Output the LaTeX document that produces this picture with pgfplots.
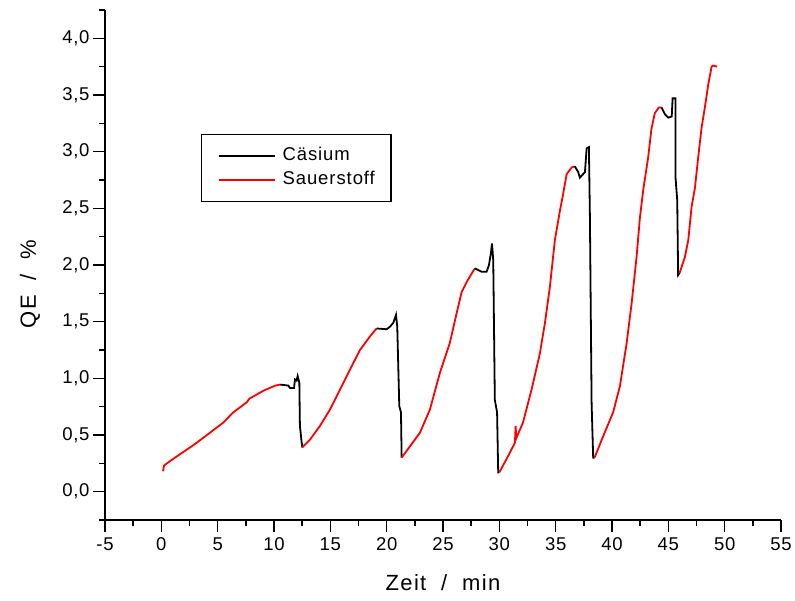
\documentclass[border=0pt]{standalone}
\usepackage{fontspec}
\setmainfont{Liberation Sans}
\newfontfamily\tkfont[LetterSpace=4]{Liberation Sans}
\newfontfamily\spfont[LetterSpace=6]{Liberation Sans}
\newfontfamily\lgfont[LetterSpace=5]{Liberation Sans}
\usepackage{pgfplots}
\pgfplotsset{compat=1.18}
\begin{document}
\begin{tikzpicture}
\begin{axis}[
  name=ax,
  scale only axis, width=676pt, height=510pt,
  xmin=-5, xmax=55, ymin=-0.25, ymax=4.25,
  axis lines=left, axis line style={-, line width=1.6pt},
  tick align=outside,
  major tick length=12pt, minor tick length=6pt,
  every tick/.style={line width=1.5pt, black},
  xtick={-5,0,...,55}, minor xtick={-2.5,2.5,...,52.5},
  ytick={0,0.5,...,4}, minor ytick={-0.25,0.25,...,4.25},
  /pgf/number format/assume math mode=true,
  yticklabel style={/pgf/number format/use comma, /pgf/number format/fixed, /pgf/number format/fixed zerofill, /pgf/number format/precision=1},
  xticklabel style={yshift=-2pt, /pgf/number format/fixed, /pgf/number format/precision=0},
  ticklabel style={font=\tkfont\fontsize{18.5}{20}\selectfont},
  xlabel={Zeit \ / \ min}, ylabel={QE \ / \ \%},
  label style={font=\spfont\fontsize{22}{24}\selectfont},
  xlabel style={at={(axis description cs:0.5,-0.1235)}, anchor=center},
  ylabel style={at={(axis description cs:-0.111,0.463)}, anchor=center},
  legend style={at={(axis description cs:0.142,0.757)}, anchor=north west, draw=black, line width=1.5pt,
    font=\lgfont\fontsize{18.5}{20}\selectfont, inner xsep=16pt, inner ysep=13pt,
    nodes={inner sep=0pt, text height=13pt, text depth=4pt},
    row sep=7pt, column sep=7pt, cells={anchor=west}},
  legend image code/.code={\draw[#1] (0pt,0pt) -- (56pt,0pt);},
  legend entries={C\"asium, Sauerstoff},
]
\addplot[black, line width=1.8pt] coordinates {(10.55,0.945)(11.27,0.936)(11.42,0.915)(11.78,0.915)(11.86,0.99)(12.0,0.98)(12.1,1.02)(12.25,0.96)(12.3,0.58)(12.46,0.43)(12.51,0.39)};
\addplot[red, line width=1.8pt] coordinates {(0.15,0.18)(0.24,0.23)(0.77,0.27)(1.95,0.35)(2.84,0.41)(4.32,0.52)(5.5,0.61)(6.39,0.70)(7.6,0.79)(7.8,0.82)(9.05,0.89)(10.09,0.935)(10.55,0.945)};
\addplot[red, line width=1.8pt, forget plot] coordinates {(12.51,0.39)(13.2,0.46)(14.08,0.58)(14.97,0.725)(15.86,0.90)(16.74,1.076)(17.63,1.25)(18.52,1.37)(19.1,1.44)};
\addplot[black, line width=1.8pt, forget plot] coordinates {(19.1,1.44)(20.0,1.433)(20.3,1.456)(20.59,1.49)(20.83,1.56)(20.94,1.456)(21.12,0.755)(21.27,0.70)(21.33,0.30)};
\addplot[red, line width=1.8pt, forget plot] coordinates {(21.33,0.30)(22.07,0.40)(22.95,0.52)(23.84,0.725)(24.73,1.05)(25.6,1.31)(26.2,1.57)(26.65,1.76)(27.1,1.85)(27.7,1.95)(27.84,1.97)};
\addplot[black, line width=1.8pt, forget plot] coordinates {(27.84,1.97)(28.43,1.94)(28.87,1.94)(29.08,2.0)(29.26,2.11)(29.35,2.19)(29.46,2.04)(29.6,0.81)(29.8,0.70)(29.9,0.17)(30.0,0.17)};
\addplot[red, line width=1.8pt, forget plot] coordinates {(30.0,0.17)(30.65,0.29)(31.38,0.43)(31.45,0.58)(31.5,0.47)(32.1,0.61)(32.86,0.90)(33.6,1.22)(34.05,1.49)(34.49,1.81)(34.93,2.22)(35.38,2.48)(35.67,2.63)(35.97,2.80)(36.41,2.86)(36.7,2.87)};
\addplot[black, line width=1.8pt, forget plot] coordinates {(36.7,2.87)(37.0,2.82)(37.15,2.77)(37.6,2.82)(37.75,3.03)(37.95,3.04)(38.04,2.42)(38.19,0.78)(38.33,0.30)(38.45,0.30)};
\addplot[red, line width=1.8pt, forget plot] coordinates {(38.45,0.30)(39.22,0.49)(40.1,0.70)(40.7,0.93)(41.3,1.31)(41.74,1.66)(42.18,2.07)(42.48,2.42)(42.77,2.66)(43.21,2.95)(43.5,3.20)(43.8,3.34)(44.16,3.39)(44.4,3.39)};
\addplot[black, line width=1.8pt, forget plot] coordinates {(44.4,3.39)(44.7,3.33)(45.0,3.30)(45.3,3.31)(45.38,3.47)(45.64,3.47)(45.64,2.77)(45.79,2.57)(45.87,1.91)(46.0,1.93)};
\addplot[red, line width=1.8pt, forget plot] coordinates {(46.0,1.93)(46.47,2.07)(46.77,2.22)(47.06,2.51)(47.36,2.68)(47.65,2.95)(47.95,3.21)(48.24,3.39)(48.54,3.59)(48.84,3.75)(48.98,3.76)(49.33,3.75)};
\end{axis}
\pgfresetboundingbox
\path (ax.south west) ++(-105pt,-81pt) rectangle ++(795pt,601pt);
\end{tikzpicture}
\end{document}
